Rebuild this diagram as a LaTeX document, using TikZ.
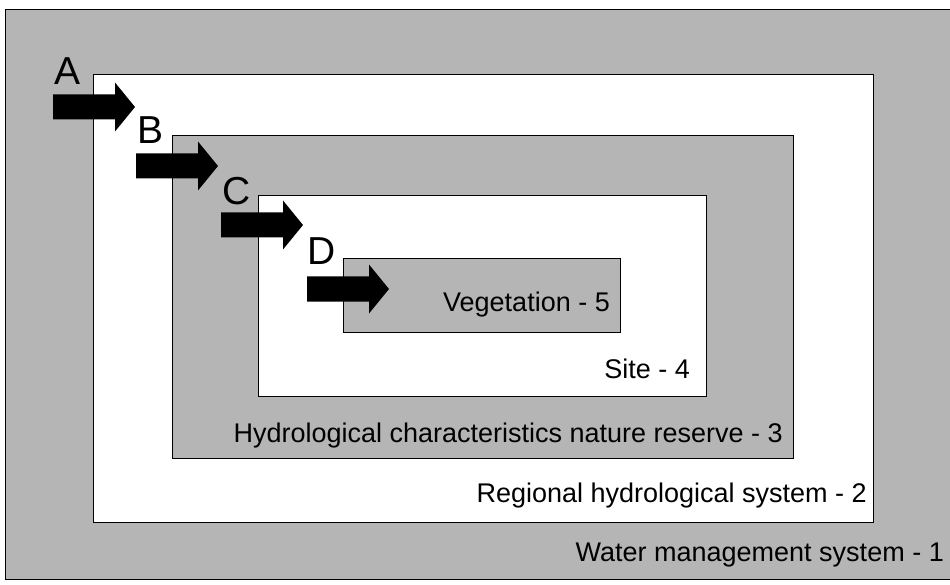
\documentclass[tikz,border=0pt]{standalone}
\usepackage{fontspec}
\setmainfont{Liberation Sans}
\begin{document}
\begin{tikzpicture}[x=1pt,y=-1pt,
  level/.style={draw=black,line width=0.8pt},
  shaded/.style={level,fill=black!29},
  plain/.style={level,fill=white},
  caption/.style={inner sep=0pt,anchor=base east,font=\fontsize{27}{32}\selectfont},
  letter/.style={inner sep=0pt,font=\fontsize{39}{46}\selectfont},
  blockarrow/.style={fill=black}]
\useasboundingbox (0,0) rectangle (950,585);
% nested system levels
\fill[white] (0,0) rectangle (950,585);
\draw[shaded] (5,9) rectangle (960,579);
\draw[plain] (93,74) rectangle (873,522);
\draw[shaded] (172,135) rectangle (793,458);
\draw[plain] (258,195) rectangle (706,396);
\draw[shaded] (343,258) rectangle (620,332);
% level captions
\node[caption] (l5) at (610,312) {Vegetation - 5};
\node[caption] (l4) at (690,378) {Site - 4};
\node[caption] (l3) at (783,442) {Hydrological characteristics nature reserve - 3};
\node[caption] (l2) at (867,502) {Regional hydrological system - 2};
\node[caption] (l1) at (944,561) {Water management system - 1};
% block arrows between levels, each starting at its tail coordinate
\foreach \name/\x/\y in {A/53/107,B/136/166,C/221/225,D/307/289}{
  \coordinate (tail\name) at (\x,\y);
  \fill[blockarrow] (tail\name) ++(0,-12.5) -- ++(62,0) -- ++(0,-12)
    -- ++(20,24.5) -- ++(-20,24.5) -- ++(0,-12) -- ++(-62,0) -- cycle;
}
\node[letter] (A) at (68,71) {A};
\node[letter] (B) at (151,130) {B};
\node[letter] (C) at (237,191) {C};
\node[letter] (D) at (322,251) {D};
\end{tikzpicture}
\end{document}
